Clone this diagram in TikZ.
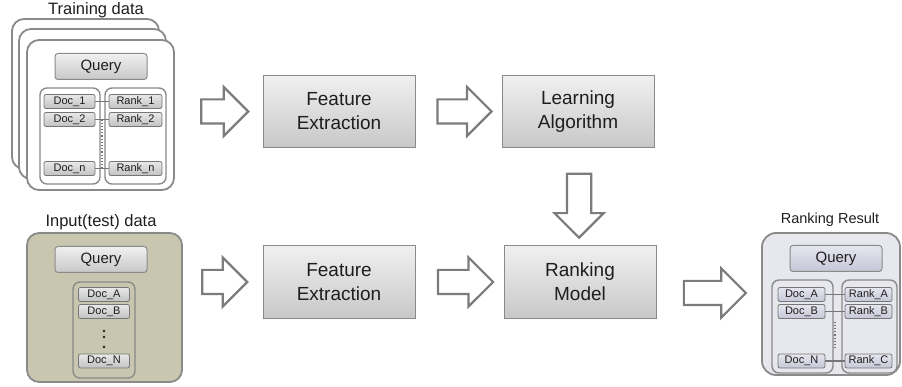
\documentclass[tikz,border=0pt]{standalone}
\usepackage{fontspec}
\setmainfont{Liberation Sans}
\usepackage{xcolor}
\usetikzlibrary{shapes.arrows,positioning,calc}

\definecolor{edgegray}{HTML}{8A8A8A}
\definecolor{arrowgray}{HTML}{7C7C7C}
\definecolor{inkgray}{HTML}{1E1E1E}
\definecolor{boxtop}{HTML}{F0F0F0}
\definecolor{boxbot}{HTML}{C8C8C8}
\definecolor{itemtop}{HTML}{E8E8E8}
\definecolor{itembot}{HTML}{C2C2C2}
\definecolor{itemedge}{HTML}{767676}
\definecolor{olive}{HTML}{C9C6AF}
\definecolor{resultbg}{HTML}{E6E8EE}
\definecolor{lavtop}{HTML}{E6E6F0}
\definecolor{lavbot}{HTML}{C6C6D6}

\begin{document}
\begin{tikzpicture}[x=1pt,y=-1pt,text=inkgray]
  \tikzset{stage/.style = {draw=edgegray, line width=1pt, top color=boxtop, bottom color=boxbot, minimum width=152pt, minimum height=72pt, align=center, font=\fontsize{19}{24}\selectfont}}
  \tikzset{panel/.style = {draw=edgegray, line width=1.8pt, rounded corners=12pt, fill=white}}
  \tikzset{column/.style = {draw=edgegray, line width=1.4pt, rounded corners=7pt, fill=white}}
  \tikzset{query/.style = {draw=edgegray, line width=1pt, rounded corners=3pt, top color=boxtop, bottom color=boxbot, minimum width=92pt, minimum height=26pt, font=\fontsize{15}{15}\selectfont}}
  \tikzset{item/.style = {draw=itemedge, line width=0.8pt, rounded corners=2pt, top color=itemtop, bottom color=itembot, minimum width=51pt, minimum height=14pt, inner sep=0pt, font=\fontsize{11}{11}\selectfont}}
  \tikzset{lav/.style = {top color=lavtop, bottom color=lavbot}}
  \tikzset{hollow/.style = {single arrow, draw=arrowgray, line width=2.2pt, fill=white, inner sep=11pt, single arrow head extend=12.5pt}}
  \tikzset{title/.style = {anchor=base, font=\fontsize{16.5}{16.5}\selectfont}}
  \tikzset{link/.style = {draw=itemedge, line width=1.2pt}}
  \tikzset{vdots/.style = {draw=itemedge, line width=1.2pt, dotted}}

  \useasboundingbox (0,0) rectangle (902,387);

  % training data: stacked sheets
  \node[title] (tdtitle) at (96,15) {Training data};
  \node[panel, minimum width=147pt, minimum height=150pt] (tdback) at (85.5,94) {};
  \node[panel, minimum width=147pt, minimum height=150pt] (tdmid) at (92.5,104) {};
  \node[panel, minimum width=147pt, minimum height=150pt] (td) at (100.5,115) {};

  \node[query] (tdq) at (101,66.5) {Query};
  \node[column, minimum width=60pt, minimum height=96pt] (tdl) at (70,136) {};
  \node[column, minimum width=61pt, minimum height=96pt] (tdr) at (135.5,136) {};

  \node[item] (d1) at (69.5,101.5) {Doc\_1};
  \node[item] (d2) at (69.5,119.5) {Doc\_2};
  \node[item] (dn) at (69.5,168.5) {Doc\_n};
  \node[item, minimum width=53pt] (r1) at (135.5,101.5) {Rank\_1};
  \node[item, minimum width=53pt] (r2) at (135.5,119.5) {Rank\_2};
  \node[item, minimum width=53pt] (rn) at (135.5,168.5) {Rank\_n};

  \foreach \from/\to in {d1/r1, d2/r2, dn/rn}
    \path[link] (\from.east) -- (\to.west);
  \path[vdots] ($(d2.east)!0.5!(r2.west)$) -- ($(dn.east)!0.5!(rn.west)$);

  % input (test) data
  \node[title] (ibtitle) at (101,227) {Input(test) data};
  \node[panel, fill=olive, minimum width=155pt, minimum height=149pt] (ib) at (104.5,307.5) {};
  \node[query] (iq) at (101,259.5) {Query};
  \node[column, fill=olive, minimum width=62pt, minimum height=96pt] (icol) at (104,330) {};
  \node[item] (da) at (104,294.5) {Doc\_A};
  \node[item] (db) at (104,311.5) {Doc\_B};
  \node[item] (dN) at (104,361) {Doc\_N};
  \foreach \y in {331,337,347}
    \fill[inkgray] (104,\y) circle (1.3pt);

  % ranking result
  \node[title, font=\fontsize{14.5}{14.5}\selectfont] (rbtitle) at (830,224) {Ranking Result};
  \node[panel, fill=resultbg, rounded corners=14pt, minimum width=138pt, minimum height=142pt] (rb) at (831,304) {};
  \node[query, lav] (rq) at (836,258.5) {Query};
  \node[column, fill=resultbg, minimum width=61pt, minimum height=93pt] (rl) at (802.5,326.5) {};
  \node[column, fill=resultbg, minimum width=55pt, minimum height=93pt] (rr) at (869.5,326.5) {};

  \node[item, lav, minimum width=47pt] (rda) at (801.5,294.5) {Doc\_A};
  \node[item, lav, minimum width=47pt] (rdb) at (801.5,311.5) {Doc\_B};
  \node[item, lav, minimum width=47pt] (rdn) at (801.5,361) {Doc\_N};
  \node[item, lav, minimum width=47pt] (rka) at (868.5,294.5) {Rank\_A};
  \node[item, lav, minimum width=47pt] (rkb) at (868.5,311.5) {Rank\_B};
  \node[item, lav, minimum width=47pt] (rkc) at (868.5,361) {Rank\_C};

  \foreach \from/\to in {rda/rka, rdb/rkb, rdn/rkc}
    \path[link] (\from.east) -- (\to.west);
  \path[vdots, shorten <=10pt, shorten >=12pt] ($(rdb.east)!0.5!(rkb.west)$) -- ($(rdn.east)!0.5!(rkc.west)$);

  % processing stages
  \node[stage] (fe1) at (339,111.5) {Feature\\Extraction};
  \node[stage] (la) at (578,111.5) {Learning\\Algorithm};
  \node[stage] (fe2) at (339,282) {Feature\\Extraction};
  \node[stage] (rm) at (580,282) {Ranking\\Model};

  % hollow arrows between the stages
  \path (td.east |- fe1.west) -- node[hollow, minimum height=47pt] (a1) {} (fe1.west);
  \path (fe1.east) -- node[hollow, minimum height=54pt] (a2) {} (la.west);
  \path (ib.east |- fe2.west) -- node[hollow, minimum height=45pt, pos=0.45] (a3) {} (fe2.west);
  \path (fe2.east) -- node[hollow, minimum height=55pt] (a4) {} (rm.west);
  \path (rm.east) -- node[hollow, minimum height=62pt] (a5) {} (rb.west);
  \path (la.south) -- node[hollow, shape border rotate=270, minimum height=64pt, pos=0.53] (a6) {} (rm.north);

\end{tikzpicture}
\end{document}
